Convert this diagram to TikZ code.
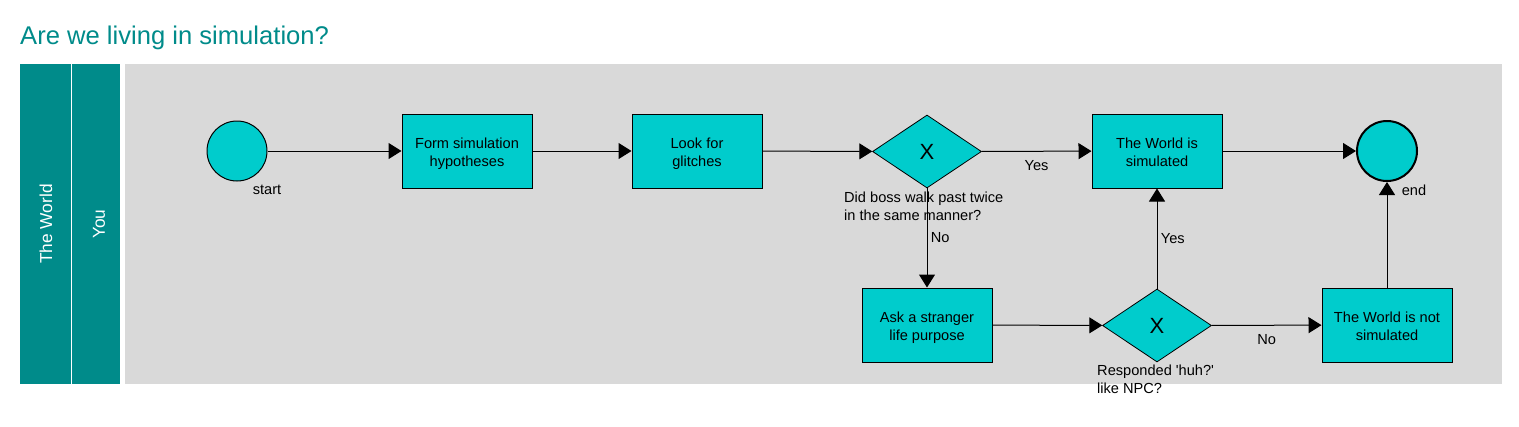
\documentclass[tikz,border=0pt]{standalone}
\usepackage{fontspec}
\setmainfont{Liberation Sans}
\usepackage{tikz}
\usetikzlibrary{arrows.meta, shapes.geometric}
\definecolor{laneteal}{RGB}{0,139,138}
\definecolor{boxcyan}{RGB}{0,204,204}
\definecolor{poolgray}{RGB}{217,217,217}
\tikzset{
    task/.style={draw, fill=boxcyan, line width=1pt, minimum width=130pt, minimum height=74pt, align=center, font=\fontsize{14.6}{18}\selectfont,
        text height=34.6pt, text depth=3.2pt}, % activity box
    gate/.style={diamond, draw, fill=boxcyan, line width=0.8pt, minimum width=109pt, minimum height=73pt, inner sep=0pt, font=\fontsize{22}{24}\selectfont}, % exclusive gateway
    event/.style={circle, draw, fill=boxcyan, line width=1pt, minimum size=60pt, inner sep=0pt}, % start / end event
    flow/.style={-{Triangle[length=13pt, width=16pt]}, line width=1pt}, % sequence flow
    lbl/.style={font=\fontsize{14.6}{18}\selectfont} % plain label text
}

\begin{document}
\begin{tikzpicture}[x=1pt, y=-1pt]
            \useasboundingbox (0,0) rectangle (1519,426);
            \node[anchor=base west, inner sep=0pt, text=laneteal, font=\fontsize{25.6}{30}\selectfont] (title) at (20,44) {Are we living in simulation?};

          % pool and lanes
          \fill[laneteal] (20,64) rectangle (120,384);
          \draw[white, line width=1pt] (71,64) -- (71,384);
          \fill[poolgray] (125,64) rectangle (1502,384);
          \node[rotate=90, text=white, font=\fontsize{17.3}{20}\selectfont] (worldlane) at (46,224) {The World};
          \node[rotate=90, text=white, font=\fontsize{17.3}{20}\selectfont] (youlane) at (99,224) {You};

          % upper row
          \node[event] (start) at (237,151) {};
          \node[task] (hypo) at (467,151) {Form simulation\\hypotheses};
          \node[task] (glitch) at (697,151) {Look for\\glitches};
          \node[gate] (boss) at (927,151.5) {X};
          \node[task] (simulated) at (1157,151) {The World is\\simulated};
          \node[event, line width=2pt] (end) at (1387,151) {};

          % lower row
          \node[task] (stranger) at (927,325) {Ask a stranger\\life purpose};
          \node[gate] (npc) at (1157,325.5) {X};
          \node[task] (notsim) at (1387,325) {The World is not\\simulated};

          \node[lbl] (startlbl) at (267,190) {start};
          \node[lbl] (endlbl) at (1414,190) {end};
          \node[lbl, anchor=north west, align=left, inner sep=0pt] (bosslbl) at (844,192) {Did boss walk past twice\\in the same manner?};
          \node[lbl, anchor=north west, align=left, inner sep=0pt] (npclbl) at (1097,365) {Responded \textquotesingle huh?\textquotesingle\\like NPC?};

          \draw[flow] (start) -- (hypo);
          \draw[flow] (hypo) -- (glitch);
          \draw[flow] (glitch) -- (boss);
          \draw[flow] (boss) -- node[lbl, below=5pt] (yesup) {Yes} (simulated);
          \draw[flow] (boss) -- node[lbl, right] (nodown) {No} (stranger);
          \draw[flow] (stranger) -- (npc);
          \draw[flow] (npc) -- node[lbl, right] (yesnpc) {Yes} (simulated);
          \draw[flow] (npc) -- node[lbl, below=5pt] (nonpc) {No} (notsim);
          \draw[flow] (simulated) -- (end);
          \draw[flow] (notsim) -- (end);

        \end{tikzpicture}
\end{document}
